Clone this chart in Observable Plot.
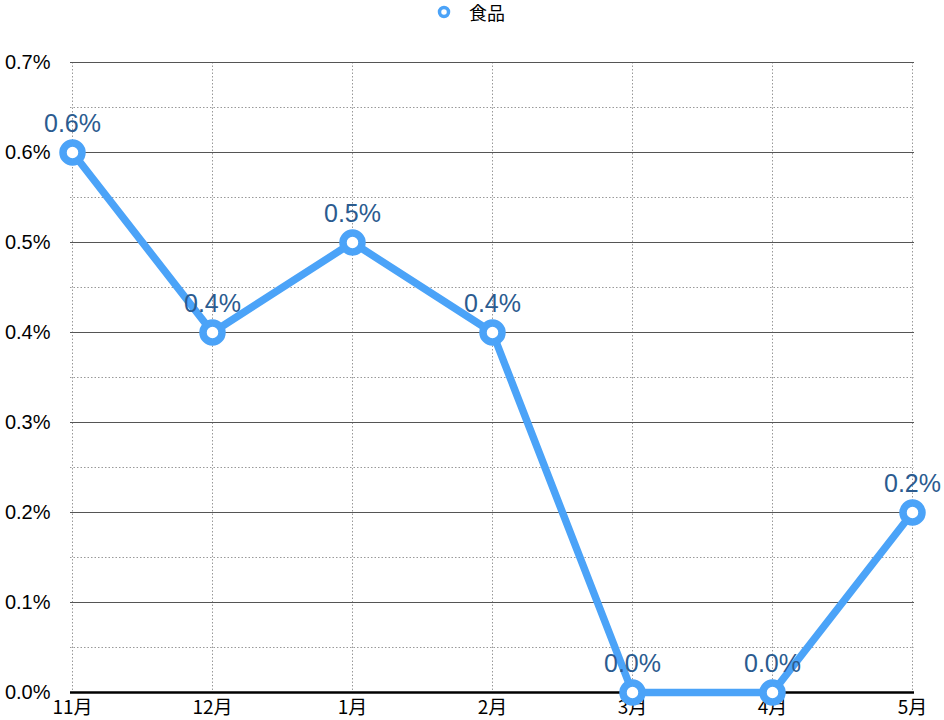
<!DOCTYPE html>
<html><head><meta charset="utf-8">
<script src="https://cdn.jsdelivr.net/npm/d3@7"></script>
<script src="https://cdn.jsdelivr.net/npm/@observablehq/plot@0.6"></script>
<style>
body{margin:0;background:#fff;font-family:"Liberation Sans","Noto Sans CJK JP",sans-serif;}
#legend{position:relative;height:30px;width:944px;}
#legend svg{position:absolute;left:436px;top:4px;display:block}
#legend span{position:absolute;left:469px;top:0px;font-size:18px;line-height:24px;font-family:'Noto Sans CJK JP',sans-serif;color:#000}
</style></head><body>
<div id="legend"><svg width="16" height="16"><circle cx="8" cy="8" r="4.5" fill="#fff" stroke="#4ba3f8" stroke-width="3.5"/></svg><span>食品</span></div>
<div id="chart"></div>
<script>
const months = ["11月","12月","1月","2月","3月","4月","5月"];
const values = [0.6, 0.4, 0.5, 0.4, 0.0, 0.0, 0.2];
const majorTicks = [0, 0.1, 0.2, 0.3, 0.4, 0.5, 0.6, 0.7];
const minorTicks = [0.05, 0.15, 0.25, 0.35, 0.45, 0.55, 0.65];

const data = months.map((m, i) => ({month: m, value: values[i]}));
const fmt = v => v.toFixed(1) + "%";

const chart = Plot.plot({
  width: 944,
  height: 690,
  marginTop: 32,
  marginBottom: 28,
  marginLeft: 70,
  marginRight: 30,
  style: {fontFamily: "'Liberation Sans','Noto Sans CJK JP',sans-serif", fontSize: "20px", color: "#000", background: "#fff", overflow: "visible"},
  x: {type: "point", domain: months, padding: 0, label: null},
  y: {domain: [0, 0.7], label: null},
  marks: [
    Plot.ruleY(minorTicks, {stroke: "#999", strokeDasharray: "1.5,2", strokeWidth: 1}),
    Plot.ruleX(months, {stroke: "#999", strokeDasharray: "1.5,2", strokeWidth: 1}),
    Plot.ruleY(majorTicks.filter(d => d > 0), {stroke: "#555", strokeWidth: 1}),
    Plot.ruleY([0], {stroke: "#000", strokeWidth: 2.5}),
    Plot.axisY(majorTicks, {tickSize: 0, tickPadding: 20, tickFormat: fmt, fontSize: 20, fill: "#000", label: null}),
    Plot.axisX(months, {tickSize: 0, tickPadding: 8, fontSize: 19, fill: "#000", fontFamily: "'Noto Sans CJK JP',sans-serif", label: null}),
    Plot.line(data, {x: "month", y: "value", stroke: "#4ba3f8", strokeWidth: 7.5, strokeLinejoin: "miter"}),
    Plot.dot(data, {x: "month", y: "value", r: 9.5, fill: "#fff", stroke: "#4ba3f8", strokeWidth: 7.5}),
    Plot.text(data, {x: "month", y: "value", text: d => fmt(d.value), dy: -29, fill: "#2b5b8f", fontSize: 25})
  ]
});
document.getElementById("chart").appendChild(chart);
</script>
</body></html>
